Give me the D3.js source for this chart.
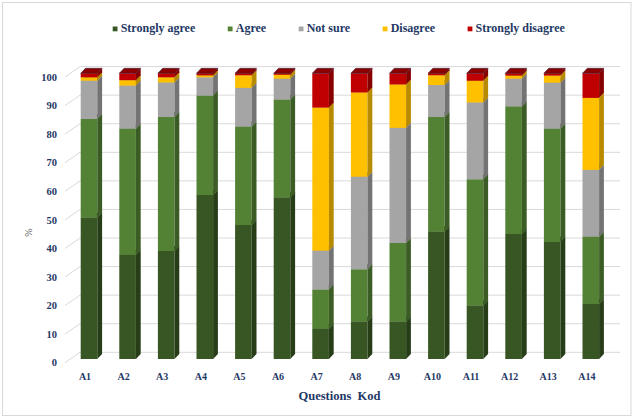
<!DOCTYPE html>
<html><head><meta charset="utf-8">
<script src="https://cdn.jsdelivr.net/npm/d3@7"></script>
<style>body{margin:0;background:#fff}svg{display:block}</style>
</head><body><svg id="c" width="634" height="419"></svg>
<script>
const categories = ["A1","A2","A3","A4","A5","A6","A7","A8","A9","A10","A11","A12","A13","A14"];
const stronglyAgree    = [49.5,36.5,37.8,57.4,46.9,56.6,10.6,13.1,13.1,44.6,18.7,43.8,41.0,19.3];
const agree            = [34.5,44.1,46.9,34.8,34.4,34.2,13.7,18.3,27.5,40.1,44.2,44.6,39.6,23.5];
const notSure          = [13.4,15.1,12.1, 6.4,13.6, 7.3,13.6,32.4,40.3,11.2,26.9, 9.7,16.1,23.4];
const disagree         = [ 1.2, 1.9, 1.8, 0.7, 4.4, 1.4,50.1,29.5,15.2, 3.4, 7.6, 1.1, 2.5,25.2];
const stronglyDisagree = [ 1.4, 2.4, 1.4, 0.7, 0.7, 0.5,12.0, 6.7, 3.9, 0.7, 2.6, 0.8, 0.8, 8.6];
const seriesNames = ["Strongly agree","Agree","Not sure","Disagree","Strongly disagree"];
const yTicks = [0,10,20,30,40,50,60,70,80,90,100];
const xTitle = "Questions  Kod";
const yTitle = "%";

const colors = {
  front: ["#375623","#548235","#a5a5a5","#ffc000","#c00000"],
  side:  ["#263d18","#3b5c25","#737373","#b88a00","#870000"],
  top:   ["#2e4a1d","#47702c","#8c8c8c","#d9a300","#8a0000"]
};
const seriesData = [stronglyAgree, agree, notSure, disagree, stronglyDisagree];

const svg = d3.select("#c");
const navy = "#1f3864";
const font = "'Liberation Serif','Times New Roman',serif";

// frame
svg.append("rect").attr("x",2.5).attr("y",2.5).attr("width",628.5).attr("height",413)
  .attr("fill","#fff").attr("stroke","#d9d9d9").attr("stroke-width",1);

// scales
const y = d3.scaleLinear().domain([0,100]).range([359,73.3]);
const x = d3.scaleBand().domain(categories).range([69.7,610.1]).paddingInner(0).paddingOuter(0);
const barW = 16.6, dx = 4.8, dy = -5;
const wallDy = -6.7, labelDy = 3.7;
const wallX0 = 80, wallX1 = 620, diagX0 = 65;

// gridlines (back wall) + floor diagonals
const grid = svg.append("g");
yTicks.forEach(t => {
  grid.append("path")
    .attr("d", `M${diagX0},${y(t)+labelDy}L${wallX0},${y(t)+wallDy}L${wallX1},${y(t)+wallDy}`)
    .attr("fill","none").attr("stroke","#d9d9d9").attr("stroke-width",1);
});

// y tick labels
svg.append("g").selectAll("text").data(yTicks).join("text")
  .attr("x",57).attr("y",d=>y(d)+labelDy).attr("dy","0.35em")
  .attr("text-anchor","end").attr("font-family",font).attr("font-weight","bold")
  .attr("font-size",10.5).attr("fill",navy).text(d=>d);

// y title
svg.append("text").attr("transform","translate(32,232.7) rotate(-90)")
  .attr("text-anchor","middle").attr("font-family",font).attr("font-size",10)
  .attr("fill","#595959").text(yTitle);

// bars
const bars = svg.append("g");
categories.forEach((c,i) => {
  const x0 = x(c) + (x.bandwidth()-barW)/2;
  let cum = 0;
  seriesData.forEach((arr,s) => {
    const v0 = cum, v1 = cum + arr[i];
    cum = v1;
    const yb = y(v0), yt = y(v1);
    const g = bars.append("g");
    g.append("rect").attr("x",x0).attr("y",yt).attr("width",barW).attr("height",Math.max(0,yb-yt))
      .attr("fill",colors.front[s]);
    g.append("path")
      .attr("d",`M${x0+barW},${yt}L${x0+barW+dx},${yt+dy}L${x0+barW+dx},${yb+dy}L${x0+barW},${yb}Z`)
      .attr("fill",colors.side[s]);
    g.append("path")
      .attr("d",`M${x0},${yt}L${x0+barW},${yt}L${x0+barW+dx},${yt+dy}L${x0+dx},${yt+dy}Z`)
      .attr("fill",colors.top[s]).attr("stroke", s===seriesData.length-1 ? "#3a1f3f" : "none")
      .attr("stroke-width",0.6);
  });
});

// x tick labels
svg.append("g").selectAll("text").data(categories).join("text")
  .attr("x",d=>x(d)+x.bandwidth()/2-4).attr("y",376).attr("dy","0.35em")
  .attr("text-anchor","middle").attr("font-family",font).attr("font-weight","bold")
  .attr("font-size",10).attr("fill",navy).text(d=>d);

// x title
svg.append("text").attr("x",339.5).attr("y",396).attr("dy","0.35em")
  .attr("text-anchor","middle").attr("font-family",font).attr("font-weight","bold")
  .attr("font-size",12.5).attr("fill",navy).style("white-space","pre").text(xTitle);

// legend
const leg = svg.append("g");
let lx = 112.7;
seriesNames.forEach((n,s) => {
  leg.append("rect").attr("x",lx).attr("y",26.5).attr("width",4.8).attr("height",4.8).attr("fill",colors.front[s]);
  const t = leg.append("text").attr("x",lx+8).attr("y",32.2).attr("font-family",font).attr("font-weight","bold")
    .attr("font-size",12).attr("fill",navy).text(n);
  lx = lx + 8 + t.node().getComputedTextLength() + 32.5;
});
</script></body></html>
